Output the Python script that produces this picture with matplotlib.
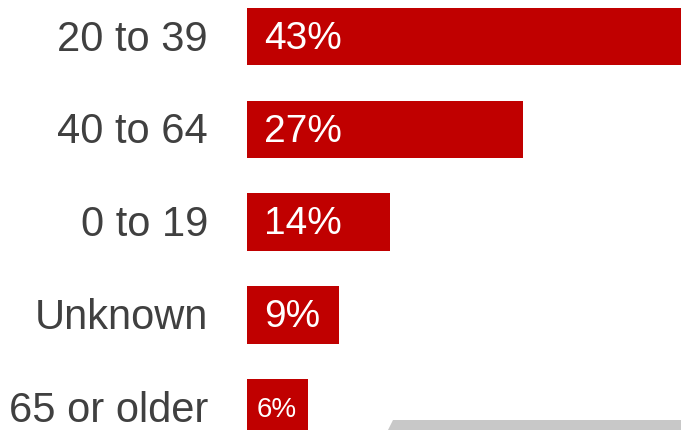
import matplotlib
matplotlib.use("Agg")
import matplotlib.pyplot as plt
from matplotlib.patches import Polygon

categories = ["20 to 39", "40 to 64", "0 to 19", "Unknown", "65 or older"]
values = [43, 27, 14, 9, 6]
value_labels = ["43%", "27%", "14%", "9%", "6%"]
label_sizes = [28, 28, 28, 28, 20]

plt.rcParams['font.family'] = ['Liberation Sans', 'DejaVu Sans']

W, H = 681, 431
fig = plt.figure(figsize=(W / 100, H / 100), dpi=100)
ax = fig.add_axes([247 / W, 0, 1 - 247 / W, 1])

bar_color = "#C00000"
ypos = list(range(len(categories)))
ax.barh(ypos, values, height=0.62, color=bar_color)
ax.set_xlim(0, 42.5)
unit = 92.8
top = -37.5 / unit
bottom = (H - 37.5) / unit
ax.set_ylim(bottom, top)

for i, (cat, v, lab, fs) in enumerate(zip(categories, values, value_labels, label_sizes)):
    ax.annotate(cat, xy=(0, i), xytext=(-28, -1.5), textcoords="offset points",
                ha="right", va="center", fontsize=30, color="#404040")
    off = 12 if fs >= 28 else 7
    ax.annotate(lab, xy=(0, i), xytext=(off, -1), textcoords="offset points",
                ha="left", va="center", fontsize=fs, color="white")

ax.axis("off")

poly = Polygon([(393 / W, 10 / H), (W / W, 10 / H), (W / W, 0), (388 / W, 0)],
               closed=True, transform=fig.transFigure, facecolor="#C8C8C8",
               edgecolor="none")
fig.patches.append(poly)

fig.savefig("out.png", dpi=100)
